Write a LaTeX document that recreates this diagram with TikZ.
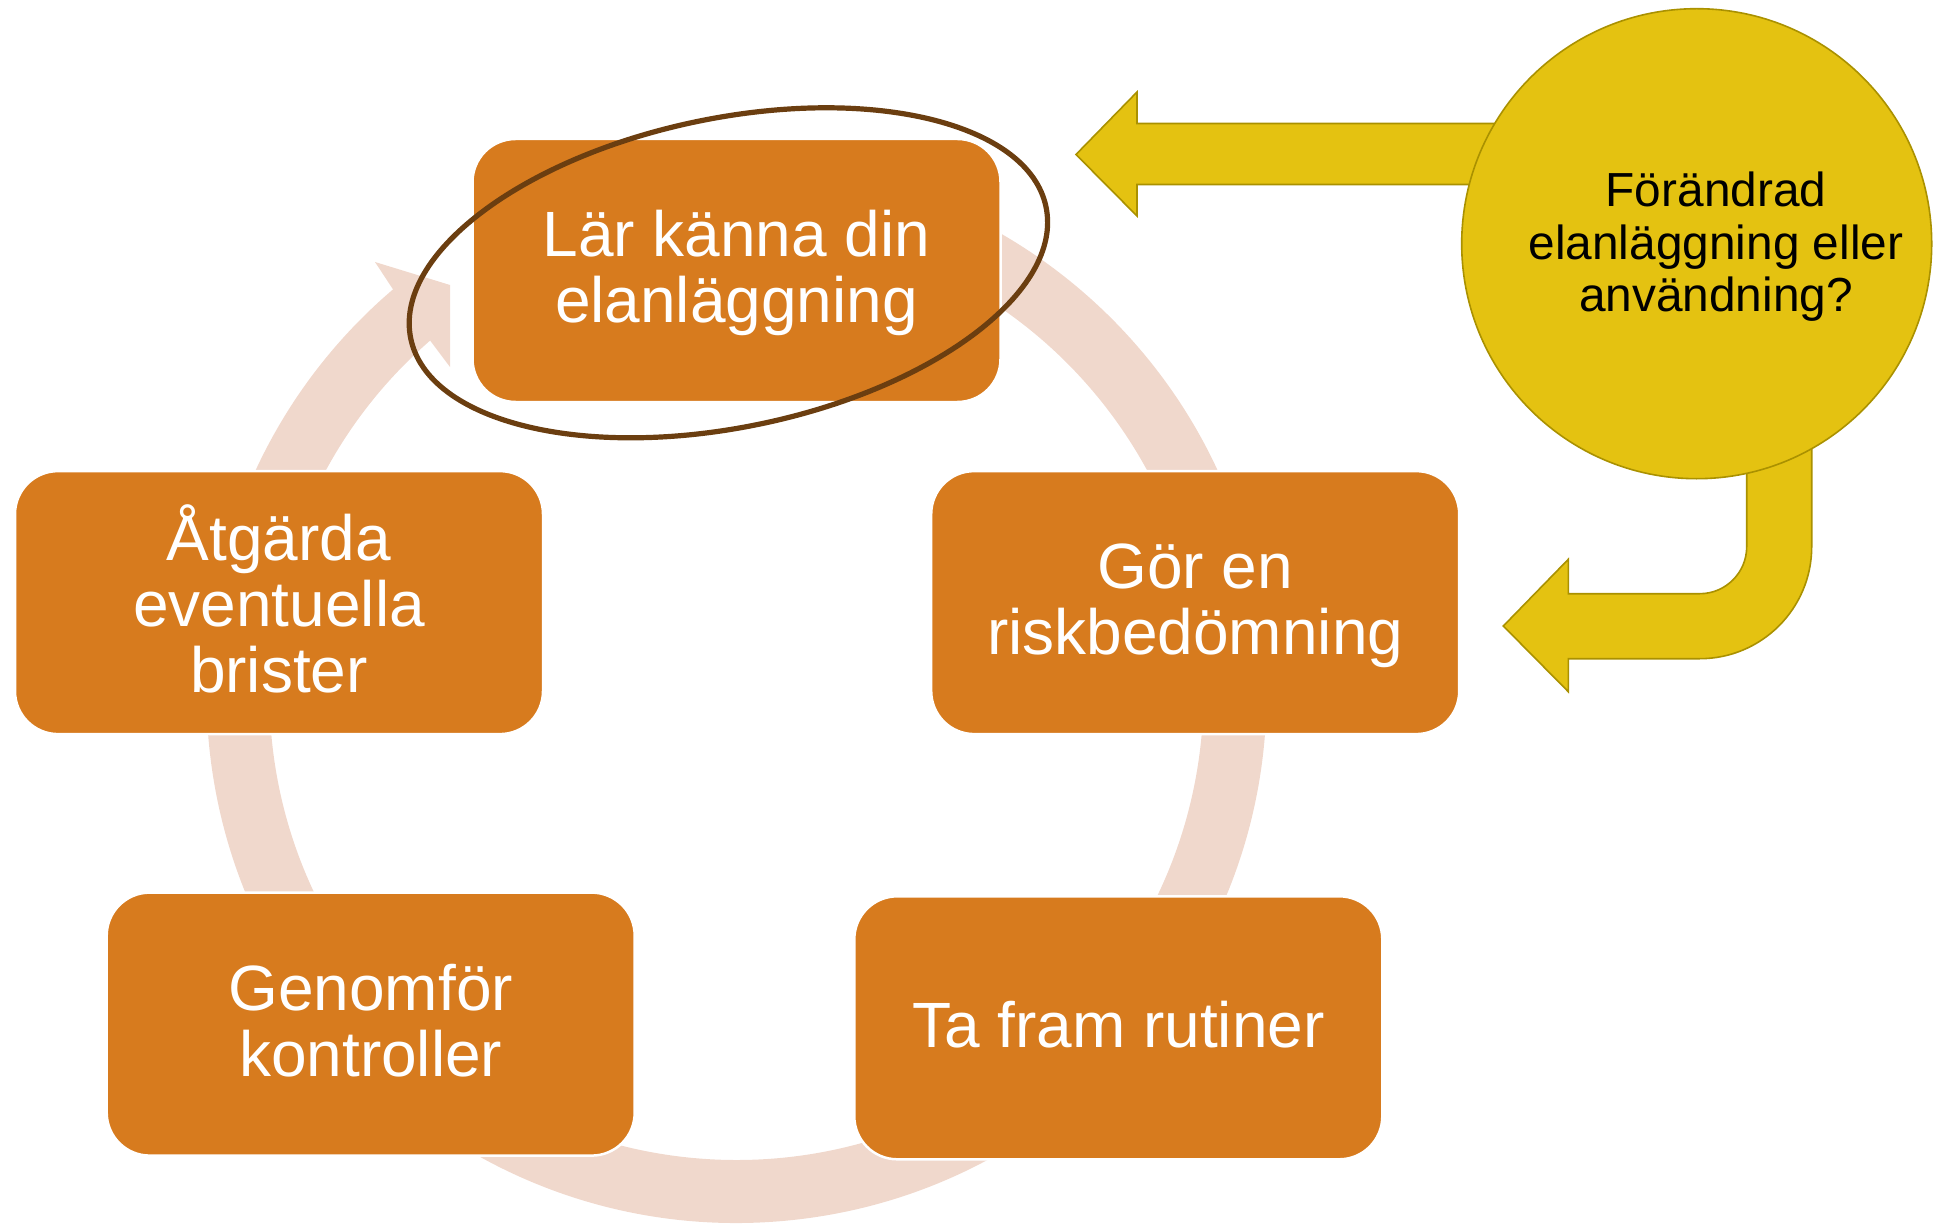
\documentclass[tikz,border=0pt]{standalone}
\usepackage{fontspec}
\setmainfont{Liberation Sans}
\usetikzlibrary{calc}
\definecolor{boxorange}{HTML}{D77B1E}
\definecolor{ringpink}{HTML}{F0D8CC}
\definecolor{ellbrown}{HTML}{6B3E10}
\definecolor{yfill}{HTML}{E4C211}
\definecolor{yedge}{HTML}{AA9100}
\newcommand\steptext[1]{\raisebox{-3pt}[\height][\depth]{\begin{tabular}{@{}c@{}}#1\end{tabular}}}
\tikzset{
  stepbox/.style={rectangle, rounded corners=21.5pt, fill=boxorange, draw=white,
    line width=1.25pt, minimum width=264pt, minimum height=131.5pt, inner sep=0pt,
    text=white, font=\fontsize{32}{33}\selectfont},
  yarrow/.style={fill=yfill, draw=yedge, line width=0.8pt, line join=miter},
  ringarrow/.style={fill=ringpink},
  focusring/.style={draw=ellbrown, line width=2.6pt},
  qcircle/.style={circle, fill=yfill, draw=yedge, line width=0.8pt, minimum size=235pt, inner sep=0pt},
  qtext/.style={align=center, text=black, inner sep=0pt, font=\fontsize{23.9}{26.3}\selectfont}
}
\begin{document}
\begin{tikzpicture}[x=0.5pt,y=0.5pt]
\useasboundingbox (0,0) rectangle (1944,-1225);
\coordinate (C) at (736.5,-693);
% circular arrow of the cycle
\fill[ringarrow] ($(C)+(95:530)$) arc[start angle=95,end angle=-229.6,radius=530]
  -- (375,-262) -- (450,-285) -- (450,-367)
  -- ($(C)+(-229:467)$) arc[start angle=-229,end angle=95,radius=467] -- cycle;
% steps
\node[stepbox] (b1) at (736.5,-270.5) {\steptext{Lär känna din\\elanläggning}};
\node[stepbox] (b2) at (1195.2,-602.6) {\steptext{Gör en\\riskbedömning}};
\node[stepbox] (b3) at (1118.3,-1027.8) {\steptext{Ta fram rutiner}};
\node[stepbox] (b4) at (370.7,-1024.1) {\steptext{Genomför\\kontroller}};
\node[stepbox] (b5) at (279,-602.6) {\steptext{Åtgärda\\eventuella\\brister}};
% highlight ellipse
\draw[focusring, rotate around={11.7:(728.4,-272.8)}] (728.4,-272.8) ellipse[x radius=324.4, y radius=154.5];
% yellow arrows
\draw[yarrow] (1076,-154.5) -- (1137,-92) -- (1137,-123.5) -- (1720,-123.5)
  -- (1720,-184.5) -- (1137,-184.5) -- (1137,-216) -- cycle;
\draw[yarrow] (1746.7,-330) -- (1746.7,-546.7) arc[start angle=0,end angle=-90,radius=47]
  -- (1568.3,-593.7) -- (1568.3,-559.3) -- (1503.3,-626) -- (1568.3,-691.7)
  -- (1568.3,-658.7) -- (1699.7,-658.7) arc[start angle=-90,end angle=0,radius=112]
  -- (1811.7,-330) -- cycle;
% question circle
\node[qcircle] (q) at (1696.7,-243.7) {};
\node[qtext] (qt) at (1716,-247) {Förändrad\\elanläggning eller\\användning?};
\end{tikzpicture}
\end{document}
